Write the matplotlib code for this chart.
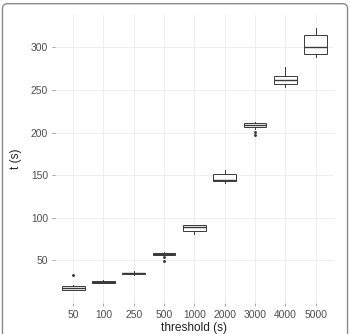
import matplotlib
matplotlib.use("Agg")
import matplotlib.pyplot as plt
from matplotlib.patches import FancyBboxPatch

plt.rcParams['font.family'] = ['Liberation Sans', 'DejaVu Sans']

categories = ["50", "100", "250", "500", "1000", "2000", "3000", "4000", "5000"]
q1 = [15.7, 23.9, 34.0, 56.8, 84.8, 142.9, 206.5, 257.0, 292.0]
med = [17.2, 24.7, 34.9, 58.0, 88.6, 144.8, 208.5, 261.6, 301.0]
q3 = [19.9, 25.4, 35.6, 59.0, 91.0, 151.5, 211.0, 266.6, 314.6]
whislo = [15.0, 23.6, 32.4, 56.5, 81.3, 141.0, 204.5, 254.0, 289.0]
whishi = [20.5, 26.6, 37.5, 59.3, 91.5, 156.5, 212.8, 277.5, 322.5]
fliers = [[32.8], [], [], [53.9, 49.6], [], [], [201.0, 196.7], [], []]
yticks = [50, 100, 150, 200, 250, 300]

fig = plt.figure(figsize=(3.5, 3.34), dpi=100)
ax = fig.add_axes([0.157, 0.092, 0.797, 0.863])

stats = []
for i in range(len(categories)):
    stats.append(dict(med=med[i], q1=q1[i], q3=q3[i], whislo=whislo[i],
                      whishi=whishi[i], fliers=fliers[i], label=categories[i]))

lc = '#3a3a3a'
positions = list(range(1, len(categories) + 1))
ax.bxp(stats, positions=positions, widths=0.75, patch_artist=True,
       showcaps=False,
       boxprops=dict(facecolor='white', edgecolor=lc, linewidth=0.7),
       medianprops=dict(color=lc, linewidth=1.0),
       whiskerprops=dict(color=lc, linewidth=0.7),
       flierprops=dict(marker='o', markersize=1.1, markerfacecolor=lc,
                       markeredgecolor=lc, linestyle='none'))

ax.set_xlim(0.4, len(categories) + 0.6)
ax.set_ylim(-0.4, 338)
ax.set_yticks(yticks)
ax.set_xticks(positions)
ax.set_xticklabels(categories)
ax.grid(True, color='#ebebeb', linewidth=0.6)
ax.set_axisbelow(True)
for s in ax.spines.values():
    s.set_visible(False)
ax.tick_params(axis='both', length=2.5, width=0.5, color='#7f7f7f',
               labelsize=7.4, labelcolor='#4d4d4d', pad=2.5)
ax.set_xlabel("threshold (s)", fontsize=8.6, color='#222222', labelpad=1)
ax.set_ylabel("t (s)", fontsize=8.6, color='#222222', labelpad=6)

frame = FancyBboxPatch((0.007, -0.05), 0.986, 1.039, boxstyle="round,pad=0,rounding_size=0.015",
                       transform=fig.transFigure, fill=False, edgecolor='#8a8a8a',
                       linewidth=1.0, clip_on=False)
fig.patches.append(frame)

fig.savefig("out.png", dpi=100)
